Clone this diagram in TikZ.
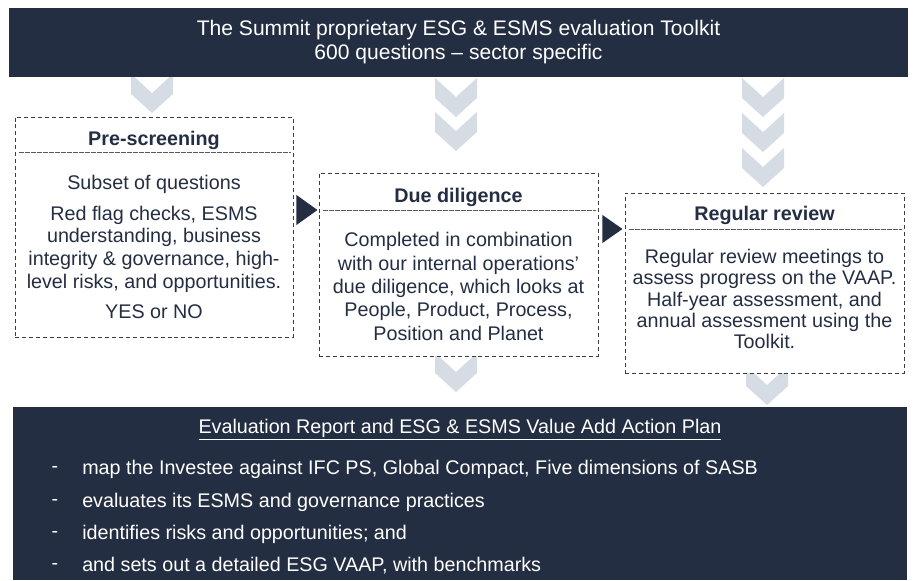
\documentclass[tikz,border=0pt]{standalone}
\usepackage{fontspec}
\setmainfont{Liberation Sans}

\definecolor{navy}{HTML}{242E42}
\definecolor{chevgrey}{HTML}{D6DCE4}
\definecolor{dashgrey}{HTML}{3C3C3C}

% down chevron: #1 = centre x, #2 = top y
\newcommand{\chevdown}[2]{%
  \fill[chevgrey] (#1-21,#2) -- (#1,#2+19) -- (#1+21,#2) -- (#1+21,#2+20)
    -- (#1,#2+39) -- (#1-21,#2+20) -- cycle;}

\begin{document}
\begin{tikzpicture}[
        x=0.75pt, y=-0.75pt,
        every node/.style={font=\fontsize{14.8}{17}\selectfont, text=navy},
        banner/.style={fill=navy, inner sep=0pt},
        stage/.style={draw=dashgrey, fill=white, line width=0.7pt,
            dash pattern=on 3pt off 2.2pt, inner sep=0pt},
        stagetitle/.style={font=\fontsize{14.8}{17}\selectfont\bfseries},
        sepline/.style={draw=dashgrey!85, line width=0.45pt,
            dash pattern=on 0.45pt off 0.45pt},
        pointer/.style={fill=navy},
        item/.style={anchor=west, inner sep=0pt, text=white}
    ]

    \useasboundingbox (0,0) rectangle (914,581);

    % =====================================================
    % Chevrons (drawn first, boxes sit on top)
    % =====================================================
    \chevdown{152}{74}
    \foreach \t in {78,112} {\chevdown{456}{\t}}
    \foreach \t in {78,113,148} {\chevdown{763}{\t}}
    \chevdown{456}{353}
    \chevdown{767}{366}

    % =====================================================
    % Top banner
    % =====================================================
    \node[banner, minimum width=899*0.75pt, minimum height=69*0.75pt,
        text=white, align=center, font=\fontsize{15.8}{18}\selectfont]
        (toolkit) at (458.5,42.5)
        {The Summit proprietary ESG \& ESMS evaluation Toolkit\\
        600 questions – sector specific};

    % =====================================================
    % Stage boxes
    % =====================================================
    \node[stage, minimum width=278*0.75pt, minimum height=220*0.75pt]
        (prescreen) at (154,227) {};
    \node[stage, minimum width=279*0.75pt, minimum height=183*0.75pt]
        (duedil) at (458.5,264.5) {};
    \node[stage, minimum width=279*0.75pt, minimum height=180*0.75pt]
        (review) at (764.5,283) {};

    \coordinate (prescreen-sep) at (154,152);
    \coordinate (duedil-sep) at (458.5,210);
    \coordinate (review-sep) at (764.5,229);

    % Pre-screening
    \node[stagetitle] (prescreen-title) at (154,140) {Pre-screening};
    \draw[sepline] ([xshift=3pt]prescreen.west |- prescreen-sep)
        -- ([xshift=-2pt]prescreen.east |- prescreen-sep);
    \node[align=center] (prescreen-body) at (154,247)
    {Subset of questions\\[6pt]
    Red flag checks, ESMS\\
    understanding, business\\
    integrity \& governance, high-\\
    level risks, and opportunities.\\[6pt]
    YES or NO};

    % Due diligence
    \node[stagetitle] (duedil-title) at (458.5,197) {Due diligence};
    \draw[sepline] ([xshift=3pt]duedil.west |- duedil-sep)
        -- ([xshift=-2pt]duedil.east |- duedil-sep);
    \node[align=center, font=\fontsize{14.8}{17.5}\selectfont]
        (duedil-body) at (458.5,286.5)
    {Completed in combination\\
    with our internal operations’\\
    due diligence, which looks at\\
    People, Product, Process,\\
    Position and Planet};

    % Regular review
    \node[stagetitle] (review-title) at (764.5,215) {Regular review};
    \draw[sepline] ([xshift=3pt]review.west |- review-sep)
        -- ([xshift=-2pt]review.east |- review-sep);
    \node[align=center, font=\fontsize{14.8}{16}\selectfont]
        (review-body) at (764.5,299)
    {Regular review meetings to\\
    assess progress on the VAAP.\\
    Half-year assessment, and\\
    annual assessment using the\\
    Toolkit.};

    % Pointers between the stages
    \fill[pointer] (prescreen.east |- duedil-sep) ++(3,-15)
        -- ++(21,15) -- ++(-21,15) -- cycle;
    \fill[pointer] (duedil.east |- review-sep) ++(4,-14)
        -- ++(20,14) -- ++(-20,14) -- cycle;

    % =====================================================
    % Bottom banner: report and action plan
    % =====================================================
    \node[banner, minimum width=894*0.75pt, minimum height=173*0.75pt]
        (report) at (460,493.5) {};

    \node[text=white] (report-title) at (460,430)
    {\underline{Evaluation Report and ESG \& ESMS Value Add Action Plan}};

    \node[text=white] (dash1) at (55,469) {-};
    \node[text=white] (dash2) at (55,502) {-};
    \node[text=white] (dash3) at (55,534) {-};
    \node[text=white] (dash4) at (55,566) {-};

    \node[item] (item1) at (82,469)
    {map the Investee against IFC PS, Global Compact, Five dimensions of SASB};
    \node[item] (item2) at (82,502)
    {evaluates its ESMS and governance practices};
    \node[item] (item3) at (82,534)
    {identifies risks and opportunities; and};
    \node[item] (item4) at (82,566)
    {and sets out a detailed ESG VAAP, with benchmarks};

\end{tikzpicture}
\end{document}
